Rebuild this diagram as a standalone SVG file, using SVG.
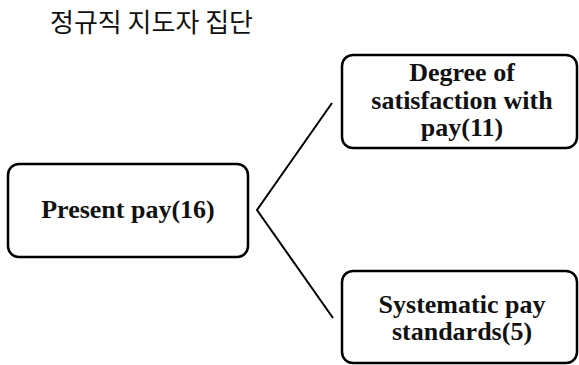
<svg xmlns="http://www.w3.org/2000/svg" width="579" height="365" viewBox="0 0 579 365">
<style>
.box{fill:#fff;stroke:#000;stroke-width:2.5}
.t{font-family:"Liberation Serif","DejaVu Serif",serif;font-weight:bold;font-size:26px;fill:#111;text-anchor:middle}
.c{fill:none;stroke:#000;stroke-width:2}
</style>
<rect width="579" height="365" fill="#fff"/>
<text x="50" y="32" font-family="'Noto Sans CJK KR','Noto Sans',sans-serif" font-size="26" fill="#111">정규직 지도자 집단</text>
<g id="connectors">
<polyline class="c" points="332,103 257,210 333,318"/>
</g>
<g id="present">
<rect class="box" x="8" y="164" width="240" height="93" rx="11"/>
<text class="t" x="128" y="218">Present pay(16)</text>
</g>
<g id="satisfaction">
<rect class="box" x="342" y="55" width="235" height="93" rx="11"/>
<text class="t" x="462" y="81">Degree of</text>
<text class="t" x="462" y="109">satisfaction with</text>
<text class="t" x="462" y="136">pay(11)</text>
</g>
<g id="systematic">
<rect class="box" x="342" y="271" width="235" height="92" rx="11"/>
<text class="t" x="462" y="313">Systematic pay</text>
<text class="t" x="462" y="340">standards(5)</text>
</g>
</svg>
